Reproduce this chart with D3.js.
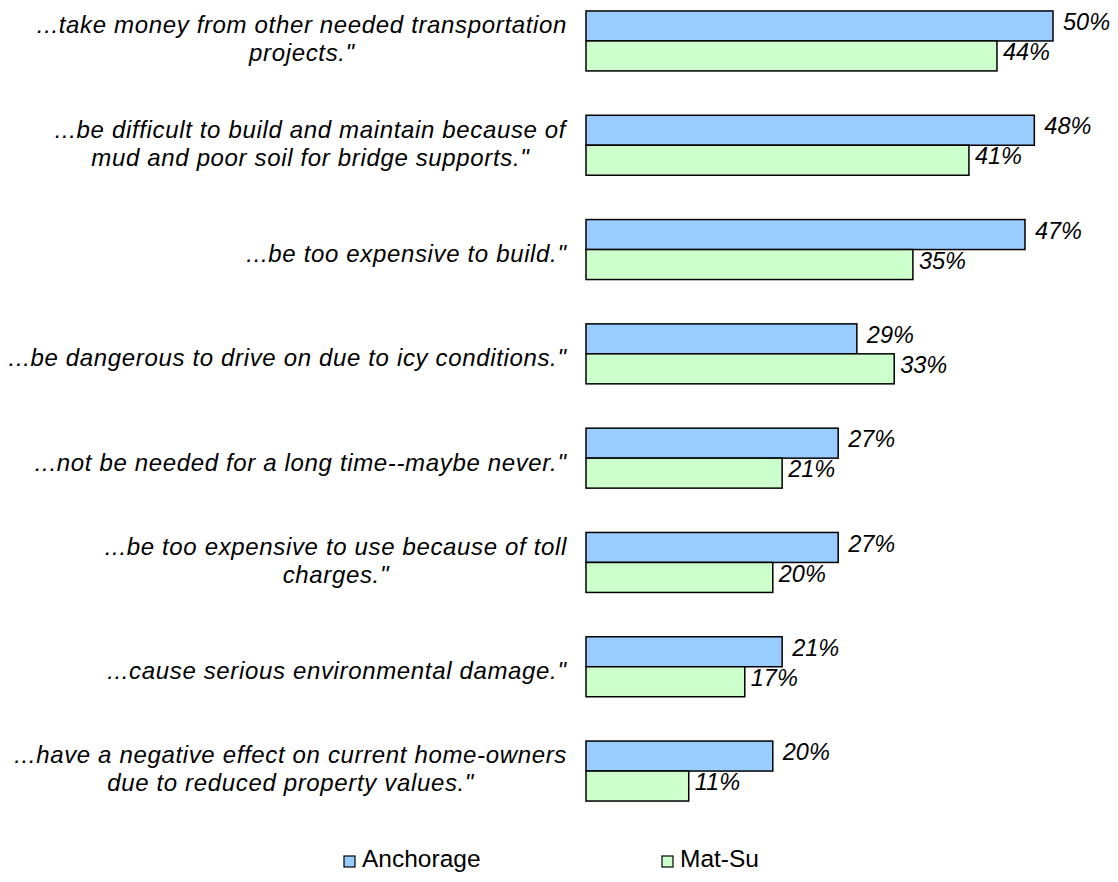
<!DOCTYPE html>
<html>
<head>
<meta charset="utf-8">
<script src="https://cdn.jsdelivr.net/npm/d3@7"></script>
<style>
  body { margin: 0; background: #fff; }
  text { font-family: "Liberation Sans", Arial, sans-serif; }
</style>
</head>
<body>
<div id="chart"></div>
<script>
// statements, each one may wrap on two lines
var statements = [
  ["...take money from other needed transportation", "projects.\""],
  ["...be difficult to build and maintain because of", "mud and poor soil for bridge supports.\""],
  ["...be too expensive to build.\""],
  ["...be dangerous to drive on due to icy conditions.\""],
  ["...not be needed for a long time--maybe never.\""],
  ["...be too expensive to use because of toll", "charges.\""],
  ["...cause serious environmental damage.\""],
  ["...have a negative effect on current home-owners", "due to reduced property values.\""]
];
var seriesNames = ["Anchorage", "Mat-Su"];
var anchorage = [50, 48, 47, 29, 27, 27, 21, 20];
var matSu = [44, 41, 35, 33, 21, 20, 17, 11];
var colors = ["#99ccff", "#ccffcc"];

function init(){
  var w = 1118, h = 882;

  var svg = d3.select("#chart").append("svg")
    .attr("width", w)
    .attr("height", h);

  // one band per statement
  var y = d3.scaleBand()
    .domain(d3.range(statements.length))
    .range([-11.2, 823.2])
    .paddingInner(0.425)
    .paddingOuter(0.2125);

  // the two bars inside a band
  var y1 = d3.scaleBand()
    .domain(seriesNames)
    .range([0, y.bandwidth()]);

  var x = d3.scaleLinear()
    .domain([0, 50])
    .range([586, 1053]);

  var values = [anchorage, matSu];

  // category labels on the left, lines centred in a block that is right aligned
  var labels = svg.append("g").selectAll("text")
    .data(statements)
    .enter().append("text")
      .attr("text-anchor", "middle")
      .attr("font-style", "italic")
      .attr("font-size", 24)
      .attr("letter-spacing", 0.65)
      .attr("fill", "#000");
  labels.selectAll("tspan")
    .data(function(d){ return d.map(function(s, k){ return {s: s, k: k, n: d.length}; }); })
    .enter().append("tspan")
      .attr("x", 0)
      .attr("y", function(d){ return (d.k - (d.n - 1) / 2) * 28 - 2 + (d.n == 1 ? 6 : 0); })
      .attr("dy", "0.35em")
      .text(function(d){ return d.s; });
  labels.attr("transform", function(d, i){
    var bw = this.getBBox().width;
    var cy = y(i) + y.bandwidth() / 2;
    return "translate(" + (567 - bw / 2) + "," + cy + ")";
  });

  // bars
  seriesNames.forEach(function(name, si){
    var g = svg.append("g");
    g.selectAll("rect")
      .data(values[si])
      .enter().append("rect")
        .attr("x", x(0))
        .attr("y", function(d, i){ return y(i) + y1(name); })
        .attr("width", function(d){ return x(d) - x(0); })
        .attr("height", y1.bandwidth())
        .attr("fill", colors[si])
        .attr("stroke", "#000")
        .attr("stroke-width", 1.5);

    g.selectAll("text")
      .data(values[si])
      .enter().append("text")
        .attr("x", function(d){ return x(d) + (si == 0 ? 10 : 6); })
        .attr("y", function(d, i){ return y(i) + y1(name) + y1.bandwidth() / 2 - 4; })
        .attr("dy", "0.35em")
        .attr("font-style", "italic")
        .attr("font-size", 23.5)
        .text(function(d){ return d + "%"; });
  });

  // legend
  var legendX = [344, 662];
  var legend = svg.append("g").selectAll("g")
    .data(seriesNames)
    .enter().append("g")
      .attr("transform", function(d, i){ return "translate(" + legendX[i] + ",856)"; });
  legend.append("rect")
    .attr("width", 11)
    .attr("height", 11)
    .attr("fill", function(d, i){ return colors[i]; })
    .attr("stroke", "#000")
    .attr("stroke-width", 1.2);
  legend.append("text")
    .attr("x", 18)
    .attr("y", 11)
    .attr("font-size", 24.5)
    .text(function(d){ return d; });
}
window.onload = init;
</script>
</body>
</html>
